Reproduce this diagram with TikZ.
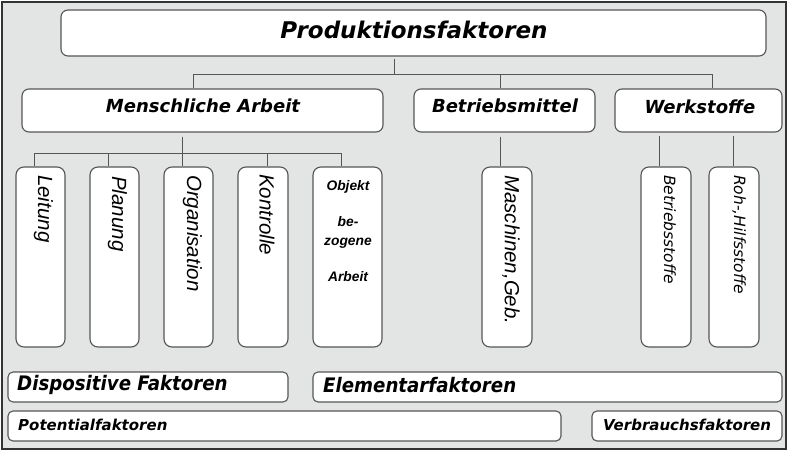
\documentclass[tikz,border=0pt]{standalone}
\usepackage{fontspec}
\setmainfont{DejaVu Sans}
\newfontfamily\arialfont{Liberation Sans}
\newfontfamily\narrowfont[FakeStretch=0.91]{DejaVu Sans}
\usetikzlibrary{positioning}

\definecolor{bggray}{HTML}{E3E5E4}
\definecolor{linegray}{HTML}{555555}

\tikzset{
  frame/.style={draw=black!80, line width=1.6pt, fill=bggray},
  box/.style={draw=linegray, line width=1.1pt, rounded corners=7pt, fill=white, inner sep=0pt},
  conn/.style={draw=linegray, line width=1pt},
  headtxt/.style={inner sep=0pt, font=\fontsize{23}{27}\selectfont\bfseries\itshape},
  subtxt/.style={inner sep=0pt, font=\fontsize{18}{21}\selectfont\bfseries\itshape},
  vtxt/.style={inner sep=0pt, rotate=-90, anchor=west, font=\arialfont\fontsize{20.5}{24}\selectfont\itshape},
  vsmall/.style={inner sep=0pt, rotate=-90, anchor=west, font=\fontsize{15.5}{18}\selectfont\itshape},
  foottxt/.style={inner sep=0pt, anchor=west, font=\narrowfont\fontsize{20}{23}\selectfont\bfseries\itshape},
  footsmall/.style={inner sep=0pt, anchor=west, font=\fontsize{15}{18}\selectfont\bfseries\itshape}
}

\begin{document}
\begin{tikzpicture}[x=1pt,y=-1pt]
\useasboundingbox (0,0) rectangle (789,452);
\draw[frame] (2,2) rectangle (786,449);

% obere Ebene
\node[box, minimum width=705pt, minimum height=46pt] (prod) at (413.5,33) {};
\node[headtxt] (prod-t) at (414,30) {Produktionsfaktoren};

\node[box, minimum width=361pt, minimum height=43pt] (mensch) at (202.5,110.5) {};
\node[box, minimum width=181pt, minimum height=43pt] (betr) at (504.5,110.5) {};
\node[box, minimum width=167pt, minimum height=43pt] (werk) at (698.5,110.5) {};
\node[subtxt] (mensch-t) at (203,106) {Menschliche Arbeit};
\node[subtxt] (betr-t) at (505,106) {Betriebsmittel};
\node[subtxt] (werk-t) at (700,107) {Werkstoffe};

% Spalten
\foreach \n/\x/\w in {lei/40.5/49, pla/114.5/49, org/188.5/49, kon/263/50, obj/347.5/69,
                     masch/507/50, bstoff/666/50, roh/734/50}
  \node[box, rounded corners=8pt, minimum width=\w pt, minimum height=180pt] (\n) at (\x,257) {};

\node[vtxt] (lei-t) at ([xshift=3pt]lei.north |- 0,175) {Leitung};
\node[vtxt] (pla-t) at ([xshift=3pt]pla.north |- 0,176) {Planung};
\node[vtxt] (org-t) at ([xshift=4pt]org.north |- 0,175) {Organisation};
\node[vtxt] (kon-t) at ([xshift=4pt]kon.north |- 0,174) {Kontrolle};
\node[vtxt] (masch-t) at ([xshift=4pt]masch.north |- 0,175) {Maschinen,Geb.};
\node[vsmall] (bstoff-t) at ([xshift=4pt]bstoff.north |- 0,175) {Betriebsstoffe};
\node[vsmall] (roh-t) at ([xshift=5pt]roh.north |- 0,175) {Roh-,Hilfsstoffe};
\node[inner sep=0pt, align=center, font=\arialfont\fontsize{13.8}{18.5}\selectfont\bfseries\itshape]
  (obj-t) at (348,231) {Objekt\\[18pt]be-\\zogene\\[18pt]Arbeit};

% Verbindungen
\coordinate (busT) at (394,74);
\coordinate (busL) at (193,74);
\coordinate (busM) at (500,74);
\coordinate (busR) at (712,74);
\draw[conn, shorten <=2pt] (prod.south -| busT) -- (busT);
\draw[conn] (busL) -- (busR);
\draw[conn] (busL) -- (busL |- mensch.north);
\draw[conn] (busM) -- (busM |- betr.north);
\draw[conn] (busR) -- (busR |- werk.north);

\coordinate (mbus) at (182,153);
\draw[conn, shorten <=4pt] (mensch.south -| mbus) -- (mbus);
\draw[conn] (34,153) -- (341,153);
\foreach \n/\x in {lei/34, pla/108, org/182, kon/267, obj/341} {
  \coordinate (m-\n) at (\x,153);
  \draw[conn] (m-\n) -- (m-\n |- \n.north);
}
\draw[conn, shorten <=4pt] (betr.south -| busM) -- (busM |- masch.north);
\coordinate (w-b) at (659,136);
\coordinate (w-r) at (733,136);
\draw[conn] (w-b) -- (w-b |- bstoff.north);
\draw[conn] (w-r) -- (w-r |- roh.north);

% untere Leisten
\node[box, rounded corners=5pt, minimum width=280pt, minimum height=30pt] (disp) at (148,387) {};
\node[box, rounded corners=5pt, minimum width=469pt, minimum height=30pt] (elem) at (547.5,387) {};
\node[box, rounded corners=5pt, minimum width=553pt, minimum height=30pt] (pot) at (284.5,426) {};
\node[box, rounded corners=5pt, minimum width=190pt, minimum height=30pt] (verb) at (687,426) {};
\node[foottxt] (disp-t) at (17,385) {Dispositive Faktoren};
\node[foottxt] (elem-t) at (323,385) {Elementarfaktoren};
\node[footsmall] (pot-t) at (18,425) {Potentialfaktoren};
\node[footsmall] (verb-t) at (603,425) {Verbrauchsfaktoren};
\end{tikzpicture}
\end{document}
